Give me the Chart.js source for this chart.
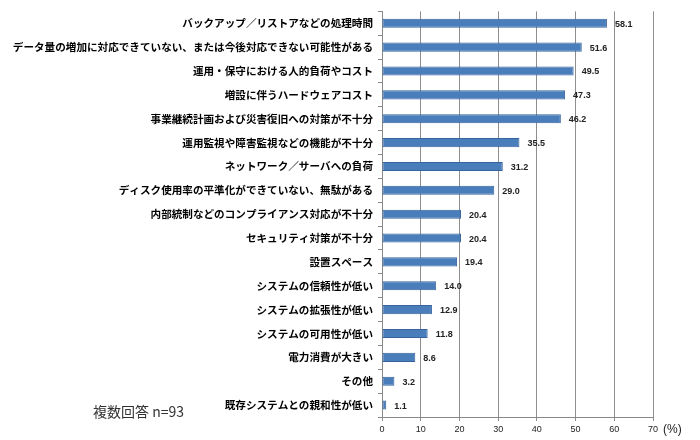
<!DOCTYPE html>
<html lang="ja">
<head>
<meta charset="utf-8">
<script src="https://cdn.jsdelivr.net/npm/chart.js@4.4.1/dist/chart.umd.min.js"></script>
<style>
  html, body { margin: 0; padding: 0; background: #fff; }
  #wrap { width: 700px; height: 440px; position: relative; }
</style>
</head>
<body>
<div id="wrap"><canvas id="c"></canvas></div>
<script>
/* 課題（複数回答） · 横棒グラフ */
const categorias = [
  'バックアップ／リストアなどの処理時間',
  'データ量の増加に対応できていない、または今後対応できない可能性がある',
  '運用・保守における人的負荷やコスト',
  '増設に伴うハードウェアコスト',
  '事業継続計画および災害復旧への対策が不十分',
  '運用監視や障害監視などの機能が不十分',
  'ネットワーク／サーバへの負荷',
  'ディスク使用率の平準化ができていない、無駄がある',
  '内部統制などのコンプライアンス対応が不十分',
  'セキュリティ対策が不十分',
  '設置スペース',
  'システムの信頼性が低い',
  'システムの拡張性が低い',
  'システムの可用性が低い',
  '電力消費が大きい',
  'その他',
  '既存システムとの親和性が低い',
];
const valores = [58.1, 51.6, 49.5, 47.3, 46.2, 35.5, 31.2, 29.0, 20.4, 20.4, 19.4, 14.0, 12.9, 11.8, 8.6, 3.2, 1.1];
const ejeMax = 70;
const ejePaso = 10;
const unidad = '(%)';
const nota = '複数回答 n=93';

Chart.defaults.font.family = "'Noto Sans CJK JP', 'Noto Sans', sans-serif";

// etiquetas de valor + textos sueltos
const extras = {
  id: 'extras',
  afterDatasetsDraw(chart) {
    const ctx = chart.ctx;
    const meta = chart.getDatasetMeta(0);
    ctx.save();
    ctx.fillStyle = '#222';
    ctx.font = "bold 9px 'Liberation Sans', sans-serif";
    ctx.textBaseline = 'middle';
    ctx.textAlign = 'left';
    meta.data.forEach((bar, i) => {
      ctx.fillText(valores[i].toFixed(1), bar.x + 8, bar.y + 1);
    });
    const xs = chart.scales.x;
    ctx.font = "12px 'Liberation Sans', sans-serif";
    ctx.fillText(unidad, xs.right + 10, xs.top + 13);
    ctx.font = "14px 'Noto Sans CJK JP', sans-serif";
    ctx.fillStyle = '#333';
    ctx.fillText(nota, 93, 412);
    ctx.restore();
  }
};

new Chart(document.getElementById('c'), {
  type: 'bar',
  data: {
    labels: categorias,
    datasets: [{
      data: valores,
      backgroundColor: '#4A7EBB',
      borderColor: '#36639B',
      borderWidth: 1,
      borderSkipped: false,
      barPercentage: 0.38,
      categoryPercentage: 1,
    }],
  },
  options: {
    indexAxis: 'y',
    responsive: true,
    maintainAspectRatio: false,
    animation: false,
    layout: { padding: { top: 10, right: 47, bottom: 0, left: 0 } },
    plugins: { legend: { display: false }, tooltip: { enabled: false } },
    scales: {
      x: {
        min: 0, max: ejeMax,
        afterFit(s) { s.height = 23; },
        ticks: { stepSize: ejePaso, color: '#222', font: { size: 9, family: "'Liberation Sans', sans-serif" }, padding: 3, maxRotation: 0 },
        grid: { color: '#8e8e8e', lineWidth: 1, tickLength: 4 },
        border: { color: '#888' },
      },
      y: {
        afterFit(s) { s.width = 382; },
        ticks: { color: '#000', font: { size: 10.6, weight: 'bold' }, padding: 5, autoSkip: false },
        grid: { offset: true, drawOnChartArea: false, tickLength: 4, color: '#888' },
        border: { color: '#888' },
      },
    },
  },
  plugins: [extras],
});
</script>
</body>
</html>
